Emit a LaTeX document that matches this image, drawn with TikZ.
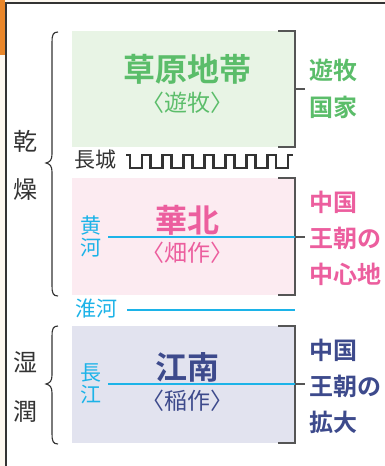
\documentclass[tikz,border=0pt]{standalone}
\usepackage{fontspec}
\setmainfont{Noto Sans CJK JP}[BoldFont={Noto Sans CJK JP Bold}]
\definecolor{cream}{HTML}{FDF8F0}
\definecolor{orangebar}{HTML}{E9862A}
\definecolor{framec}{HTML}{333333}
\definecolor{grn}{HTML}{5BBD6A}
\definecolor{grnbg}{HTML}{E8F4E5}
\definecolor{pnk}{HTML}{EC5E9E}
\definecolor{pnkbg}{HTML}{FCEBF1}
\definecolor{nvy}{HTML}{3D4A8C}
\definecolor{nvybg}{HTML}{E2E3EF}
\definecolor{cyn}{HTML}{1CB3E8}
\definecolor{txt}{HTML}{333333}
\definecolor{brk}{HTML}{555555}
\tikzset{
  title/.style={font=\bfseries\fontsize{32}{32}\selectfont, inner sep=0pt},
  sub/.style={font=\fontsize{23}{23}\selectfont, inner sep=0pt},
  side/.style={font=\bfseries\fontsize{24}{24}\selectfont, inner sep=0pt, anchor=west},
  lefttxt/.style={font=\fontsize{24}{24}\selectfont, inner sep=0pt, text=txt},
  river/.style={line width=2.6pt, draw=cyn},
  rivtxt/.style={font=\fontsize{21}{21}\selectfont, inner sep=0pt, text=cyn},
  bracket/.style={draw=brk, line width=1.3pt},
  brace/.style={draw=txt, line width=1.1pt},
}
\begin{document}
\begin{tikzpicture}[x=1pt,y=-1pt]
\useasboundingbox (0,0) rectangle (385,466);
% background and frame
\fill[cream] (0,0) rectangle (385,466);
\fill[white] (6,3) rectangle (385,466);
\fill[orangebar] (0,0) rectangle (5,55);
\draw[framec, line width=1.1pt] (6,466) -- (6,3) -- (385,3);

% boxes
\fill[grnbg] (72,31) rectangle (295,147);
\fill[pnkbg] (72,178) rectangle (295,295);
\fill[nvybg] (72,326) rectangle (295,443);

% right brackets
\draw[bracket] (278,31) -- (295,31) -- (295,147) -- (278,147);
\draw[bracket] (295,89) -- (305,89);
\draw[bracket] (278,178) -- (295,178) -- (295,295) -- (278,295);
\draw[bracket] (295,237) -- (305,237);
\draw[bracket] (278,326) -- (295,326) -- (295,443) -- (278,443);
\draw[bracket] (295,384) -- (305,384);

% box texts
\node[title, text=grn] (t1) at (187,69) {草原地帯};
\node[sub, text=grn] (s1) at (187,103) {〈遊牧〉};
\node[title, text=pnk] (t2) at (187,220) {華北};
\node[sub, text=pnk] (s2) at (187,253) {〈畑作〉};
\node[title, text=nvy] (t3) at (187,367) {江南};
\node[sub, text=nvy] (s3) at (187,401) {〈稲作〉};

% rivers
\coordinate (hA) at (108,237); \coordinate (hB) at (295,237);
\draw[river] (hA) -- (hB);
\node[rivtxt] (h1) at (91,226) {黄};
\node[rivtxt] (h2) at (91,248) {河};
\coordinate (wA) at (127,310); \coordinate (wB) at (295,310);
\draw[river] (wA) -- (wB);
\node[rivtxt] (w1) at (96,309) {淮河};
\coordinate (cA) at (108,384); \coordinate (cB) at (295,384);
\draw[river] (cA) -- (cB);
\node[rivtxt] (c1) at (91,373) {長};
\node[rivtxt] (c2) at (91,395) {江};

% great wall
\node[font=\fontsize{21}{21}\selectfont, inner sep=0pt, text=txt] (gw) at (95,160) {長城};
\draw[line width=2.9pt, draw=txt, line join=miter] (126,155) -- (130,155)
  \foreach \k in {0,...,6}{ -- ++(0,13) -- ++(12,0) -- ++(0,-13) -- ++(8.86,0)}
  -- ++(0,13) -- ++(12,0) -- ++(0,-13) -- ++(5,0);

% right labels
\node[side, text=grn] (g1) at (309,70) {遊牧};
\node[side, text=grn] (g2) at (309,107) {国家};
\node[side, text=pnk] (p1) at (309,202) {中国};
\node[side, text=pnk] (p2) at (309,238) {王朝の};
\node[side, text=pnk] (p3) at (309,274) {中心地};
\node[side, text=nvy] (n1) at (309,350) {中国};
\node[side, text=nvy] (n2) at (309,386) {王朝の};
\node[side, text=nvy] (n3) at (309,422) {拡大};

% left labels
\node[lefttxt] (l1) at (25,141) {乾};
\node[lefttxt] (l2) at (25,190) {燥};
\node[lefttxt] (l3) at (25,362) {湿};
\node[lefttxt] (l4) at (25,412) {潤};

% braces
\draw[brace] (58,32) .. controls (53,32) and (52,35) .. (52,42) -- (52,154)
  .. controls (52,160) and (50,162) .. (46,163)
  .. controls (50,164) and (52,166) .. (52,172) -- (52,286)
  .. controls (52,293) and (53,296) .. (58,296);
\draw[brace] (58,326) .. controls (53,326) and (52,329) .. (52,336) -- (52,375)
  .. controls (52,381) and (50,383) .. (46,384)
  .. controls (50,385) and (52,387) .. (52,393) -- (52,434)
  .. controls (52,441) and (53,444) .. (58,444);
\end{tikzpicture}
\end{document}
